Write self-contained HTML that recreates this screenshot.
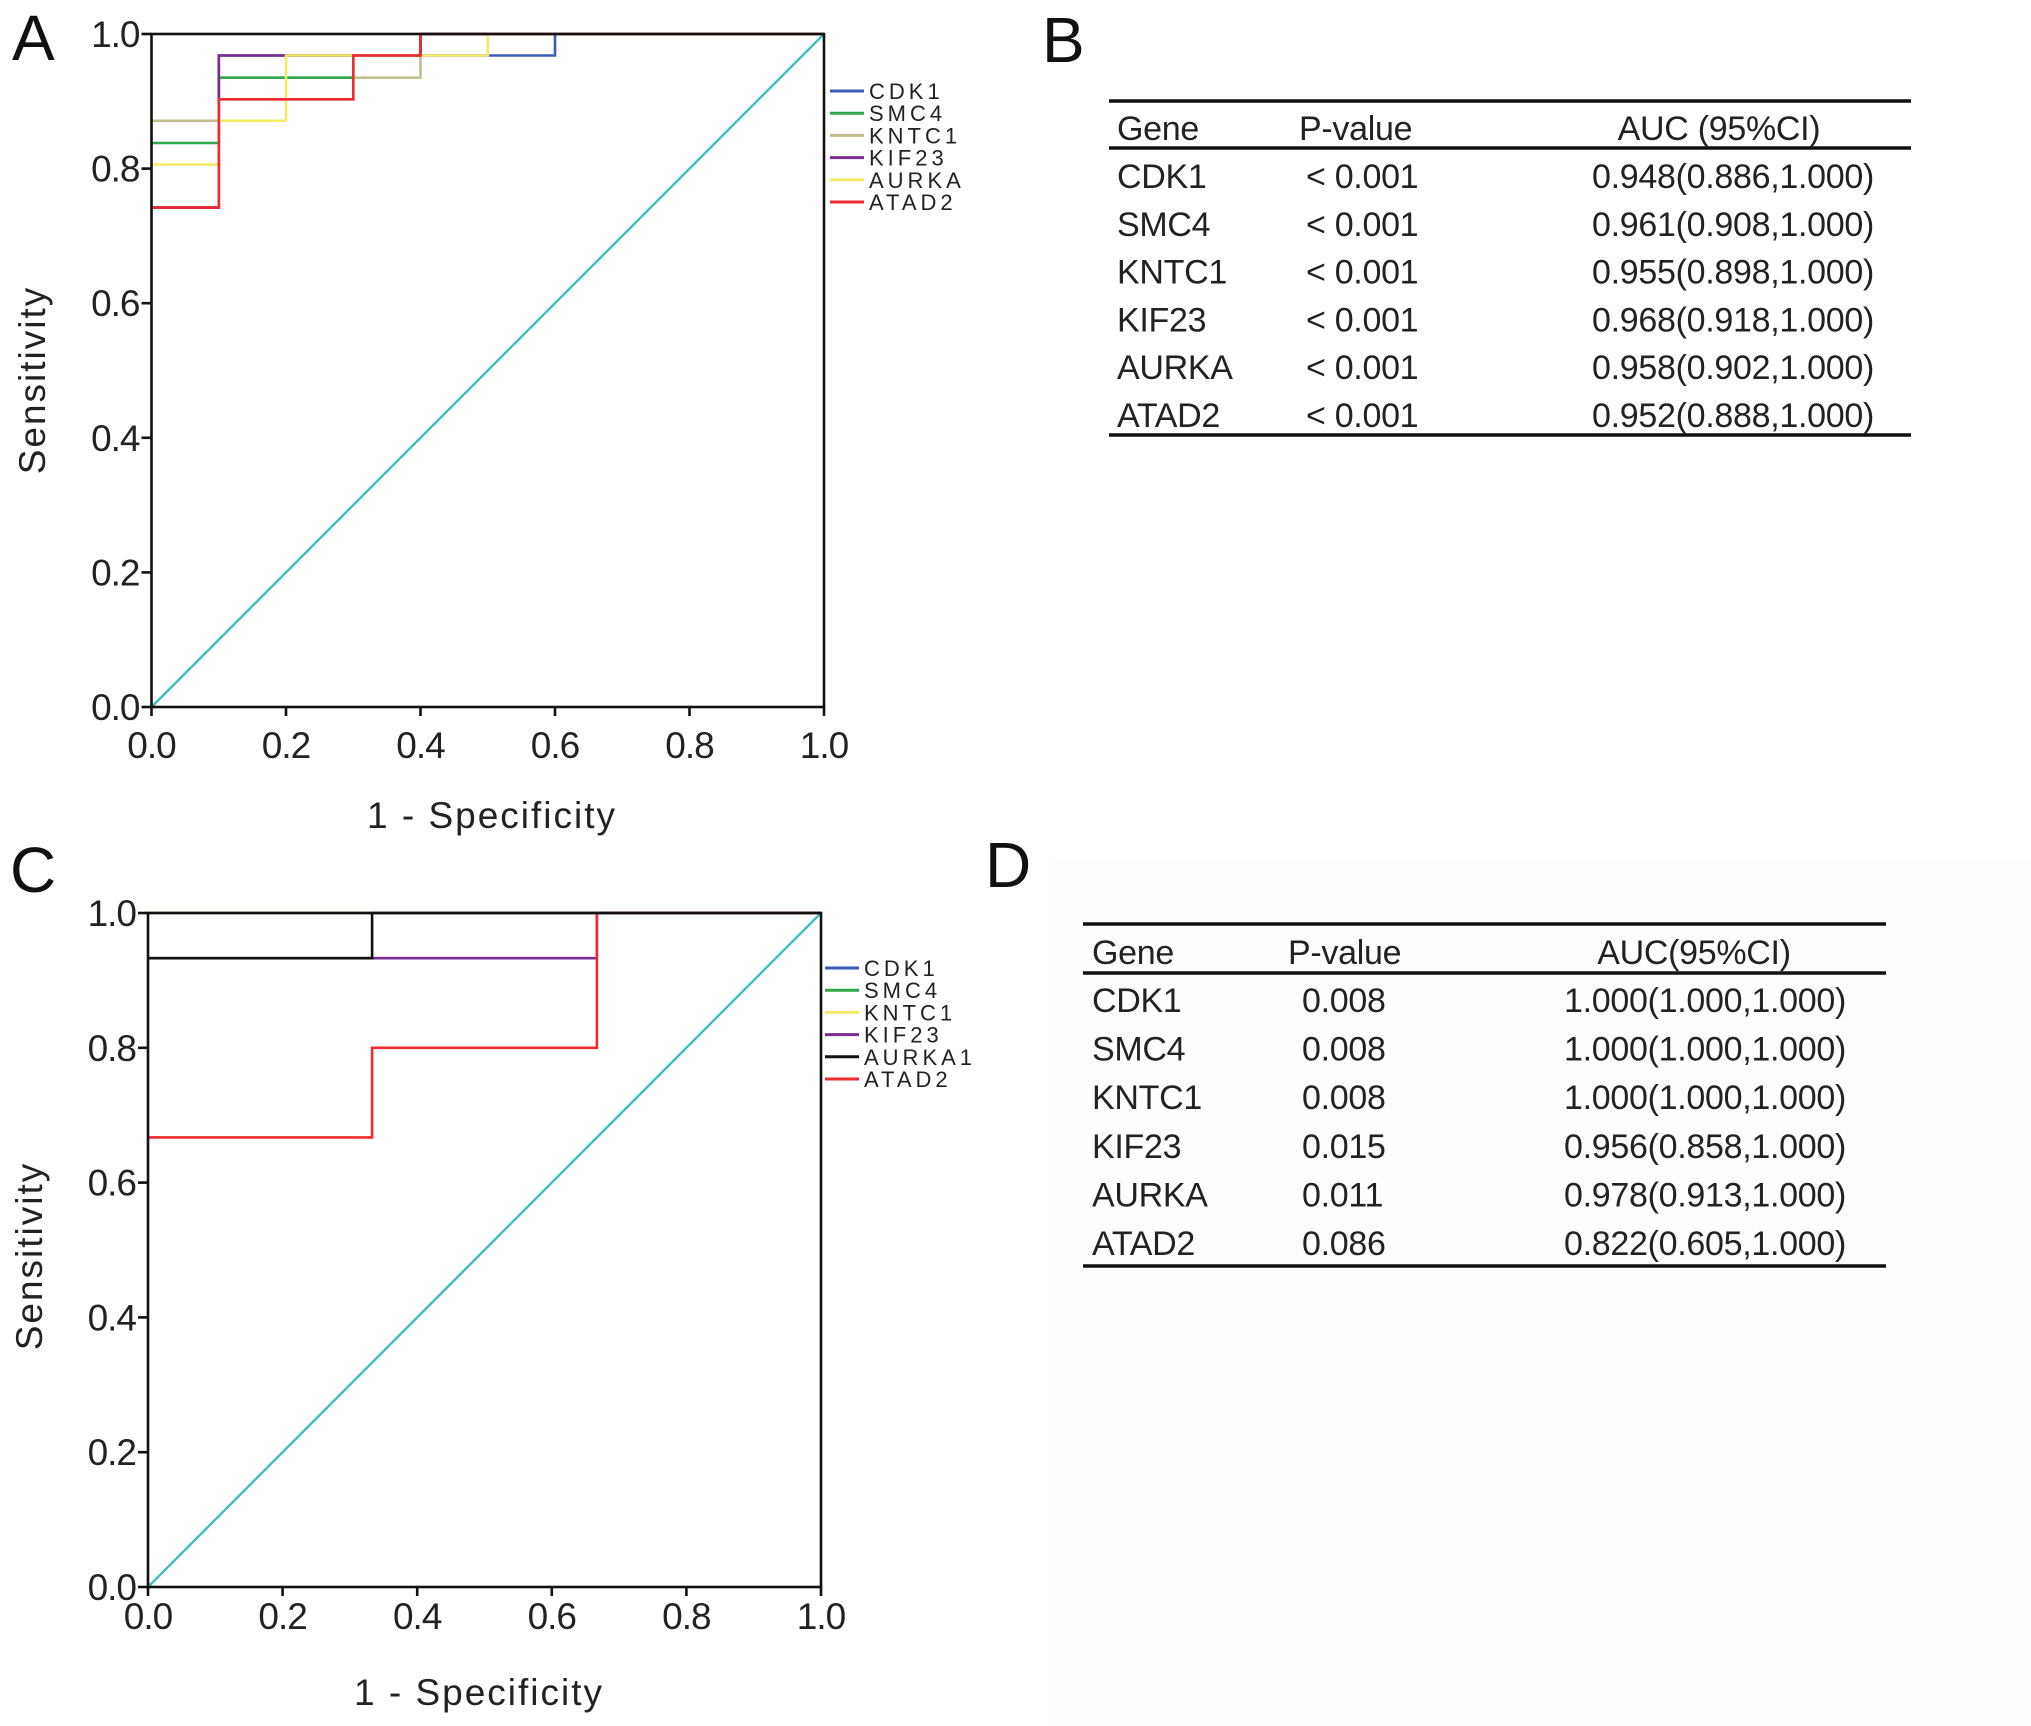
<!DOCTYPE html>
<html><head><meta charset="utf-8">
<style>
html,body{margin:0;padding:0;background:#fff;}
body{width:2031px;height:1726px;position:relative;overflow:hidden;font-family:"Liberation Sans",Arial,sans-serif;}
svg{position:absolute;left:0;top:0;}
</style></head>
<body>
<svg id="fig" width="2031" height="1726" viewBox="0 0 2031 1726">
  <rect x="1052" y="860" width="979" height="866" fill="#fdfdfd"/>
  <text x="12" y="60" font-size="64" fill="#111">A</text>
  <text x="1042" y="62" font-size="64" fill="#111">B</text>
  <text x="10" y="892" font-size="64" fill="#111">C</text>
  <text x="985" y="887" font-size="64" fill="#111">D</text>
  <g id="chartA"></g>
  <g id="chartC"></g>
  <g id="tableB"></g>
  <g id="tableD"></g>
</svg>
<script>
const NS = "http://www.w3.org/2000/svg";
const genesA = ["CDK1","SMC4","KNTC1","KIF23","AURKA","ATAD2"];
const colorsA = ["#3b5bb5","#2ea84a","#c2c08e","#7a2a90","#f3ea6a","#ee2b30"];
const drawOrderA = [0,2,1,3,4,5];
const fprA_CDK1 = [0,0.1,0.1,0.6,0.6,1];
const tprA_CDK1 = [0.742,0.742,0.968,0.968,1,1];
const fprA_SMC4 = [0,0.1,0.1,0.3,0.3,0.4,0.4,1];
const tprA_SMC4 = [0.838,0.838,0.935,0.935,0.968,0.968,1,1];
const fprA_KNTC1 = [0,0.1,0.1,0.4,0.4,1];
const tprA_KNTC1 = [0.871,0.871,0.935,0.935,1,1];
const fprA_KIF23 = [0,0.1,0.1,0.4,0.4,1];
const tprA_KIF23 = [0.742,0.742,0.968,0.968,1,1];
const fprA_AURKA = [0,0.1,0.1,0.2,0.2,0.5,0.5,1];
const tprA_AURKA = [0.806,0.806,0.871,0.871,0.968,0.968,1,1];
const fprA_ATAD2 = [0,0.1,0.1,0.3,0.3,0.4,0.4,1];
const tprA_ATAD2 = [0.742,0.742,0.903,0.903,0.968,0.968,1,1];

const genesC = ["CDK1","SMC4","KNTC1","KIF23","AURKA1","ATAD2"];
const colorsC = ["#3b5bb5","#2ea84a","#f3ea6a","#7a2a90","#111111","#ee2b30"];
const drawOrderC = [0,1,2,3,4,5];
const fprC_CDK1 = [0,1];
const tprC_CDK1 = [1,1];
const fprC_SMC4 = [0,1];
const tprC_SMC4 = [1,1];
const fprC_KNTC1 = [0,1];
const tprC_KNTC1 = [1,1];
const fprC_KIF23 = [0,0.667,0.667,1];
const tprC_KIF23 = [0.933,0.933,1,1];
const fprC_AURKA1 = [0,0.333,0.333,1];
const tprC_AURKA1 = [0.933,0.933,1,1];
const fprC_ATAD2 = [0,0.333,0.333,0.667,0.667,1];
const tprC_ATAD2 = [0.667,0.667,0.8,0.8,1,1];

const tickVals = [0,0.2,0.4,0.6,0.8,1.0];
const tickLabels = ["0.0","0.2","0.4","0.6","0.8","1.0"];

const headB = ["Gene","P-value","AUC (95%CI)"];
const geneB = ["CDK1","SMC4","KNTC1","KIF23","AURKA","ATAD2"];
const pB = ["< 0.001","< 0.001","< 0.001","< 0.001","< 0.001","< 0.001"];
const aucB = ["0.948(0.886,1.000)","0.961(0.908,1.000)","0.955(0.898,1.000)","0.968(0.918,1.000)","0.958(0.902,1.000)","0.952(0.888,1.000)"];
const headD = ["Gene","P-value","AUC(95%CI)"];
const geneD = ["CDK1","SMC4","KNTC1","KIF23","AURKA","ATAD2"];
const pD = ["0.008","0.008","0.008","0.015","0.011","0.086"];
const aucD = ["1.000(1.000,1.000)","1.000(1.000,1.000)","1.000(1.000,1.000)","0.956(0.858,1.000)","0.978(0.913,1.000)","0.822(0.605,1.000)"];

function el(tag, attrs, parent){
  const e = document.createElementNS(NS, tag);
  for (const k in attrs) e.setAttribute(k, attrs[k]);
  parent.appendChild(e);
  return e;
}

function drawChart(g, box, fprs, tprs, genes, colors, order, legend, key){
  const sx = v => box.x0 + v*(box.x1-box.x0);
  const sy = v => box.y0 - v*(box.y0-box.y1);
  const d = el("line",{x1:sx(0),y1:sy(0),x2:sx(1),y2:sy(1),stroke:"#3cbfc0","stroke-width":2.4},g);
  
  
  for (const i of order){
    const pts = fprs[i].map((f,j)=>sx(f).toFixed(1)+","+sy(tprs[i][j]).toFixed(1)).join(" ");
    const p = el("polyline",{points:pts,fill:"none",stroke:colors[i],"stroke-width":2.6},g);
    
    
  }
  const fr = el("rect",{x:box.x0,y:box.y1,width:box.x1-box.x0,height:box.y0-box.y1,fill:"none",stroke:"#111","stroke-width":2.6},g);
  
  
  for (let i=0;i<tickVals.length;i++){
    const v = tickVals[i];
    const tx = el("line",{x1:sx(v),y1:box.y0,x2:sx(v),y2:box.y0+9,stroke:"#111","stroke-width":2.6},g);
    
    
    const ty = el("line",{x1:box.x0-10,y1:sy(v),x2:box.x0,y2:sy(v),stroke:"#111","stroke-width":2.6},g);
    
    
    const lx = el("text",{x:sx(v),y:box.y0+box.xlab,"text-anchor":"middle","font-size":37,fill:"#222","letter-spacing":"-1"},g);
    lx.textContent = tickLabels[i];
    
    
    const ly = el("text",{x:box.x0-12,y:sy(v)+13,"text-anchor":"end","font-size":37,fill:"#222","letter-spacing":"-1"},g);
    ly.textContent = tickLabels[i];
    
    
  }
  const xt = el("text",{x:box.xtx,y:box.xty,"text-anchor":"middle","font-size":37,fill:"#222","letter-spacing":"2"},g);
  xt.textContent = "1 - Specificity";
  
  
  const yt = el("text",{x:0,y:0,"text-anchor":"middle","font-size":37,fill:"#222","letter-spacing":"2",transform:"translate("+box.ytx+","+box.yty+") rotate(-90)"},g);
  yt.textContent = "Sensitivity";
  
  
  for (let i=0;i<genes.length;i++){
    const y = legend.y + i*legend.dy;
    const ln = el("line",{x1:legend.x,y1:y,x2:legend.x+34,y2:y,stroke:colors[i],"stroke-width":3},g);
    
    
    const t = el("text",{x:legend.x+39,y:y+8,"font-size":22,fill:"#222","letter-spacing":"4"},g);
    t.textContent = genes[i];
    
    
  }
}

drawChart(document.getElementById("chartA"),
  {x0:151.5,x1:824,y0:707,y1:34,xlab:51,xtx:492,xty:828,ytx:45,yty:380},
  [fprA_CDK1,fprA_SMC4,fprA_KNTC1,fprA_KIF23,fprA_AURKA,fprA_ATAD2],
  [tprA_CDK1,tprA_SMC4,tprA_KNTC1,tprA_KIF23,tprA_AURKA,tprA_ATAD2],
  genesA, colorsA, drawOrderA, {x:830,y:91,dy:22.2}, "chart-a");

drawChart(document.getElementById("chartC"),
  {x0:148,x1:821,y0:1587,y1:913,xlab:42,xtx:479,xty:1705,ytx:42,yty:1256},
  [fprC_CDK1,fprC_SMC4,fprC_KNTC1,fprC_KIF23,fprC_AURKA1,fprC_ATAD2],
  [tprC_CDK1,tprC_SMC4,tprC_KNTC1,tprC_KIF23,tprC_AURKA1,tprC_ATAD2],
  genesC, colorsC, drawOrderC, {x:825,y:968,dy:22.2}, "chart-c");

function drawTable(g, t, head, genes, ps, aucs, key){
  const hl = (y)=>{
    const l = el("line",{x1:t.x0,y1:y,x2:t.x1,y2:y,stroke:"#111","stroke-width":3.5},g);
    
    
  };
  hl(t.top); hl(t.hdr); hl(t.bot);
  const st = {"font-size":34,fill:"#222","letter-spacing":"-0.3"};
  const mk = (x,y,txt,anchor,name)=>{
    const a = Object.assign({x:x,y:y,"text-anchor":anchor},st);
    const e = el("text",a,g);
    e.textContent = txt;
    
    
  };
  mk(t.cg, t.hy, head[0], "start", key+'-header-gene');
  mk(t.cp, t.hy, head[1], "start", key+'-header-p-value');
  mk(t.ca, t.hy, head[2], "middle", key+'-header-auc');
  for (let i=0;i<genes.length;i++){
    const y = t.r0 + i*t.dr + 12;
    mk(t.cg, y, genes[i], "start", key+'-cell-gene');
    mk(t.cpv, y, ps[i], "start", key+'-cell-p-value');
    mk(t.car, y, aucs[i], "end", key+'-cell-auc');
  }
}
drawTable(document.getElementById("tableB"),
  {x0:1109,x1:1911,top:101,hdr:148,bot:435,hy:140,r0:176,dr:47.8,cg:1117,cp:1299,cpv:1306,ca:1719,car:1874},
  headB, geneB, pB, aucB, "table-b");
drawTable(document.getElementById("tableD"),
  {x0:1083,x1:1886,top:924,hdr:973,bot:1266,hy:964,r0:1000,dr:48.6,cg:1092,cp:1288,cpv:1302,ca:1694,car:1846},
  headD, geneD, pD, aucD, "table-d");
</script>
</body></html>
